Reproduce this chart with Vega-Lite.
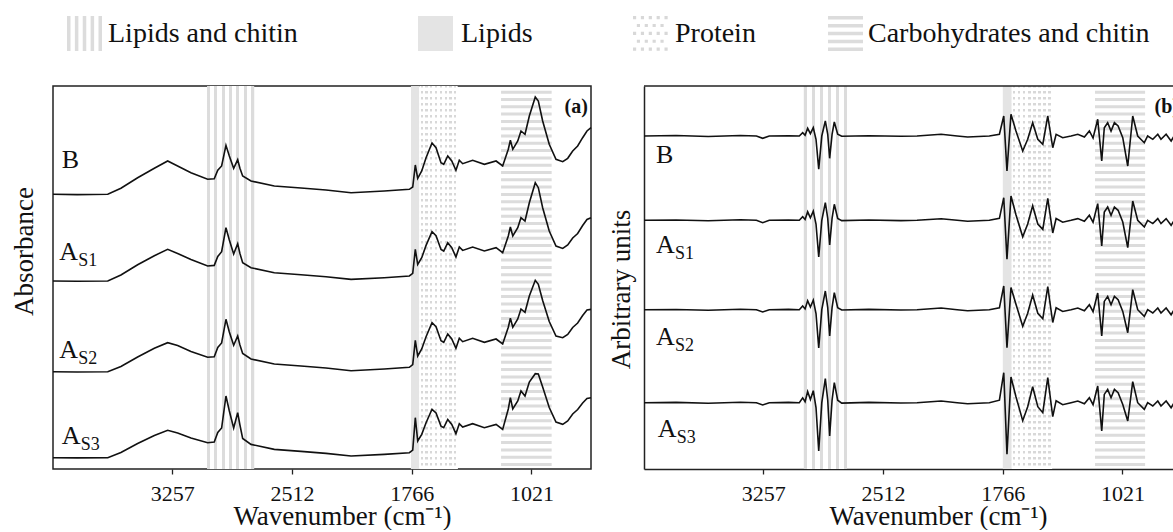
{
  "$schema": "https://vega.github.io/schema/vega-lite/v6.json",
  "padding": {"left": 9, "top": 15, "right": 0, "bottom": 0},
  "background": "white",
  "bounds": "flush",
  "spacing": 53,
  "config": {
    "font": "Liberation Serif",
    "view": {"stroke": "#222", "strokeWidth": 1.5},
    "axis": {"grid": false, "labelFont": "Liberation Serif", "titleFont": "Liberation Serif", "titleFontWeight": "normal", "labelColor": "#111", "titleColor": "#111"},
    "legend": {"labelFont": "Liberation Serif"}
  },
  "datasets": {
    "a": [
      {"w":4000,"B":274.7,"S1":188,"S2":97.3,"S3":11.3},
      {"w":3850,"B":274.4,"S1":187.7,"S2":97,"S3":11.1},
      {"w":3659,"B":274.7,"S1":188,"S2":97.3,"S3":11.3},
      {"w":3577,"B":280.7,"S1":194,"S2":102.5,"S3":16.5},
      {"w":3473,"B":291.3,"S1":204.3,"S2":112,"S3":25.5},
      {"w":3369,"B":300.7,"S1":213.3,"S2":120.7,"S3":33.5},
      {"w":3286,"B":308,"S1":219.7,"S2":126.3,"S3":38.7},
      {"w":3224,"B":303,"S1":215.5,"S2":123.5,"S3":36},
      {"w":3141,"B":296.3,"S1":209.6,"S2":117.5,"S3":31},
      {"w":3037,"B":289.7,"S1":203,"S2":111.7,"S3":26.3},
      {"w":2996,"B":290.3,"S1":203.6,"S2":112.3,"S3":27},
      {"w":2974,"B":298.7,"S1":212.5,"S2":121.5,"S3":36.5},
      {"w":2950,"B":303,"S1":217.3,"S2":126,"S3":41},
      {"w":2923,"B":323.7,"S1":241.3,"S2":149.7,"S3":73},
      {"w":2902,"B":313,"S1":229,"S2":137,"S3":58},
      {"w":2875,"B":300.7,"S1":215,"S2":123.7,"S3":41},
      {"w":2850,"B":309.3,"S1":225.3,"S2":133,"S3":56.3},
      {"w":2836,"B":300.7,"S1":215.5,"S2":124,"S3":44},
      {"w":2819,"B":293,"S1":206.3,"S2":115.5,"S3":30.5},
      {"w":2767,"B":288,"S1":201.3,"S2":110,"S3":24.6},
      {"w":2622,"B":283,"S1":196.3,"S2":105,"S3":19.6},
      {"w":2456,"B":281,"S1":194.3,"S2":103,"S3":17.6},
      {"w":2300,"B":279,"S1":192.3,"S2":101,"S3":15.6},
      {"w":2144,"B":276.3,"S1":189.6,"S2":98.3,"S3":13},
      {"w":1937,"B":278,"S1":191.3,"S2":100,"S3":14.6},
      {"w":1781,"B":279.7,"S1":193,"S2":101.7,"S3":16.3},
      {"w":1760,"B":282,"S1":195.6,"S2":104.5,"S3":19},
      {"w":1744,"B":304,"S1":219.7,"S2":128.7,"S3":51.3},
      {"w":1729,"B":290.7,"S1":204.5,"S2":113,"S3":28},
      {"w":1704,"B":298,"S1":211.3,"S2":120,"S3":34.6},
      {"w":1677,"B":311.3,"S1":223.6,"S2":132.3,"S3":46.3},
      {"w":1640,"B":326,"S1":237.3,"S2":146.3,"S3":59.7},
      {"w":1615,"B":321.3,"S1":233.3,"S2":142.3,"S3":56},
      {"w":1584,"B":306.3,"S1":219.6,"S2":128.3,"S3":42.9},
      {"w":1567,"B":304.7,"S1":218,"S2":126.7,"S3":41.3},
      {"w":1542,"B":313,"S1":226.3,"S2":135,"S3":49.6},
      {"w":1517,"B":308,"S1":221.3,"S2":130,"S3":44.6},
      {"w":1491,"B":298.7,"S1":212,"S2":120.7,"S3":35.3},
      {"w":1470,"B":308.7,"S1":222,"S2":130.7,"S3":45.3},
      {"w":1449,"B":305.3,"S1":218.6,"S2":127.3,"S3":42},
      {"w":1387,"B":308.7,"S1":222,"S2":130.7,"S3":45.3},
      {"w":1314,"B":304.7,"S1":218,"S2":126.7,"S3":41.3},
      {"w":1241,"B":308,"S1":221.3,"S2":130,"S3":44.6},
      {"w":1200,"B":303,"S1":216.3,"S2":125,"S3":39.6},
      {"w":1165,"B":319.7,"S1":233,"S2":141.7,"S3":60},
      {"w":1152,"B":328.7,"S1":242,"S2":150.7,"S3":71.3},
      {"w":1137,"B":319.7,"S1":233,"S2":141.7,"S3":60},
      {"w":1106,"B":328,"S1":241.3,"S2":150,"S3":68},
      {"w":1086,"B":338,"S1":251.3,"S2":160,"S3":78},
      {"w":1061,"B":334.7,"S1":248,"S2":156.7,"S3":73},
      {"w":1034,"B":353,"S1":266.3,"S2":173,"S3":87},
      {"w":997,"B":372,"S1":286.3,"S2":188.7,"S3":95.3},
      {"w":978,"B":368,"S1":281.3,"S2":184.7,"S3":95},
      {"w":951,"B":348,"S1":261.3,"S2":168.5,"S3":82},
      {"w":910,"B":324.7,"S1":238,"S2":147.5,"S3":61.5},
      {"w":868,"B":309.7,"S1":223,"S2":133,"S3":47},
      {"w":826,"B":307.3,"S1":220.6,"S2":131.3,"S3":44.7},
      {"w":795,"B":310.7,"S1":224,"S2":134.5,"S3":48},
      {"w":764,"B":318,"S1":231,"S2":141.5,"S3":55},
      {"w":733,"B":323,"S1":235.5,"S2":146,"S3":59.5},
      {"w":702,"B":331.3,"S1":243.5,"S2":153.5,"S3":66},
      {"w":675,"B":338,"S1":249.5,"S2":159,"S3":70.5},
      {"w":650,"B":341.3,"S1":251.3,"S2":159.6,"S3":71.3}
    ],
    "b": [
      {"w":4000,"B":333,"S1":248.7,"S2":159.3,"S3":66.3},
      {"w":3800,"B":333.5,"S1":249,"S2":159.5,"S3":66.6},
      {"w":3600,"B":332.5,"S1":248.3,"S2":158.8,"S3":65.8},
      {"w":3400,"B":333.5,"S1":249.2,"S2":159.8,"S3":66.8},
      {"w":3300,"B":333,"S1":248.7,"S2":159.3,"S3":66.3},
      {"w":3261,"B":330.7,"S1":246.3,"S2":157,"S3":64},
      {"w":3220,"B":333,"S1":248.7,"S2":159.3,"S3":66.3},
      {"w":3100,"B":333.3,"S1":249,"S2":159.6,"S3":66.6},
      {"w":3033,"B":333,"S1":248.7,"S2":159.3,"S3":66.3},
      {"w":3012,"B":336.3,"S1":252.3,"S2":163.1,"S3":71.1},
      {"w":2997,"B":333.7,"S1":249.5,"S2":160.1,"S3":67.3},
      {"w":2981,"B":340.7,"S1":257.2,"S2":168.2,"S3":77.5},
      {"w":2964,"B":335.3,"S1":251.2,"S2":162,"S3":69.6},
      {"w":2946,"B":341.3,"S1":257.8,"S2":168.8,"S3":78.3},
      {"w":2929,"B":329.7,"S1":245,"S2":155.5,"S3":61.5},
      {"w":2912,"B":299.7,"S1":212,"S2":121,"S3":18},
      {"w":2893,"B":333,"S1":248.7,"S2":159.3,"S3":66.3},
      {"w":2871,"B":348,"S1":266.3,"S2":178,"S3":90.3},
      {"w":2856,"B":334.7,"S1":250.6,"S2":161.3,"S3":68.8},
      {"w":2844,"B":310.7,"S1":224,"S2":133,"S3":33},
      {"w":2829,"B":334.7,"S1":250.6,"S2":161.3,"S3":68.8},
      {"w":2815,"B":347,"S1":264.7,"S2":176.3,"S3":86.3},
      {"w":2794,"B":334.7,"S1":250.6,"S2":161.3,"S3":68.8},
      {"w":2769,"B":332.7,"S1":248.4,"S2":159,"S3":65.9},
      {"w":2600,"B":333.3,"S1":249,"S2":159.6,"S3":66.6},
      {"w":2400,"B":332.7,"S1":248.4,"S2":159,"S3":66},
      {"w":2300,"B":333,"S1":248.7,"S2":159.3,"S3":66.3},
      {"w":2150,"B":334.7,"S1":250.3,"S2":161,"S3":68},
      {"w":2050,"B":333,"S1":248.7,"S2":159.3,"S3":66.3},
      {"w":1985,"B":332,"S1":247.7,"S2":158.3,"S3":65.3},
      {"w":1850,"B":333,"S1":248.7,"S2":159.3,"S3":66.3},
      {"w":1787,"B":334.7,"S1":250.6,"S2":161.2,"S3":68.8},
      {"w":1760,"B":353,"S1":271.3,"S2":183,"S3":96.3},
      {"w":1740,"B":298,"S1":209.7,"S2":121.3,"S3":14.7},
      {"w":1715,"B":354.7,"S1":273,"S2":181.5,"S3":92},
      {"w":1684,"B":338,"S1":254.2,"S2":164.8,"S3":72.3},
      {"w":1642,"B":318,"S1":232.2,"S2":142.8,"S3":48.3},
      {"w":1611,"B":329.7,"S1":245,"S2":155.7,"S3":62.3},
      {"w":1580,"B":346.3,"S1":263.3,"S2":174,"S3":82.3},
      {"w":1548,"B":329.7,"S1":245,"S2":155.7,"S3":62.3},
      {"w":1517,"B":324.7,"S1":239.6,"S2":150.2,"S3":56.3},
      {"w":1486,"B":353,"S1":270.7,"S2":182.3,"S3":91.3},
      {"w":1455,"B":321.3,"S1":236,"S2":146.5,"S3":52.3},
      {"w":1434,"B":334.7,"S1":250.5,"S2":161.2,"S3":68.3},
      {"w":1393,"B":331.3,"S1":246.8,"S2":157.5,"S3":64.3},
      {"w":1341,"B":333,"S1":248.7,"S2":159.3,"S3":66.3},
      {"w":1299,"B":334.7,"S1":250.4,"S2":161,"S3":68},
      {"w":1258,"B":332,"S1":247.7,"S2":158.3,"S3":65.3},
      {"w":1227,"B":338,"S1":253.7,"S2":164.3,"S3":71.3},
      {"w":1204,"B":331,"S1":246.7,"S2":157.3,"S3":64.3},
      {"w":1175,"B":349.7,"S1":265.4,"S2":176,"S3":83},
      {"w":1150,"B":308,"S1":223,"S2":133,"S3":38},
      {"w":1134,"B":341.3,"S1":257,"S2":167.6,"S3":74.6},
      {"w":1113,"B":346.3,"S1":262,"S2":172.6,"S3":79.6},
      {"w":1092,"B":338,"S1":253.7,"S2":164.3,"S3":71.3},
      {"w":1071,"B":346.3,"S1":262,"S2":172.6,"S3":79.6},
      {"w":1048,"B":343,"S1":258.7,"S2":169.3,"S3":76.3},
      {"w":1019,"B":331.3,"S1":247,"S2":157.6,"S3":64.6},
      {"w":988,"B":303,"S1":221.3,"S2":136.3,"S3":48},
      {"w":957,"B":353,"S1":268,"S2":179.3,"S3":87.3},
      {"w":926,"B":333,"S1":248.7,"S2":159.3,"S3":66.3},
      {"w":885,"B":326.3,"S1":242,"S2":152.6,"S3":59.6},
      {"w":864,"B":333,"S1":248.7,"S2":159.3,"S3":66.3},
      {"w":832,"B":329.7,"S1":245.4,"S2":156,"S3":63},
      {"w":801,"B":334.7,"S1":250.4,"S2":161,"S3":68},
      {"w":781,"B":329.7,"S1":245.4,"S2":156,"S3":63},
      {"w":749,"B":334.7,"S1":250.4,"S2":161,"S3":68},
      {"w":718,"B":328,"S1":243.7,"S2":154.3,"S3":61.3},
      {"w":699,"B":333,"S1":248.7,"S2":159.3,"S3":66.3}
    ],
    "la": [
      {"t":"B","sub":"","w":3946,"y":301},
      {"t":"A","sub":"S1","w":3961,"y":209},
      {"t":"A","sub":"S2","w":3961,"y":111},
      {"t":"A","sub":"S3","w":3946,"y":25}
    ],
    "lb": [
      {"t":"B","sub":"","w":3925,"y":306},
      {"t":"A","sub":"S1","w":3925,"y":216},
      {"t":"A","sub":"S2","w":3925,"y":124},
      {"t":"A","sub":"S3","w":3915,"y":32}
    ]
  },
  "hconcat": [
    {
      "width": 538,
      "height": 383,
      "resolve": {"scale": {"shape": "independent"}, "legend": {"shape": "independent"}},
      "layer": [
        {
          "data": {"values": [{"w1": 3041, "w2": 2747}]},
          "mark": {"type": "rect", "fill": {"gradient": "linear", "x1": 0, "y1": 0, "x2": 1, "y2": 0, "stops": [
            {"offset": 0, "color": "#dcdcdc"}, {"offset": 0.064, "color": "#dcdcdc"}, {"offset": 0.064, "color": "#ffffff"}, {"offset": 0.156, "color": "#ffffff"},
            {"offset": 0.156, "color": "#dcdcdc"}, {"offset": 0.22, "color": "#dcdcdc"}, {"offset": 0.22, "color": "#ffffff"}, {"offset": 0.312, "color": "#ffffff"},
            {"offset": 0.312, "color": "#dcdcdc"}, {"offset": 0.376, "color": "#dcdcdc"}, {"offset": 0.376, "color": "#ffffff"}, {"offset": 0.468, "color": "#ffffff"},
            {"offset": 0.468, "color": "#dcdcdc"}, {"offset": 0.532, "color": "#dcdcdc"}, {"offset": 0.532, "color": "#ffffff"}, {"offset": 0.624, "color": "#ffffff"},
            {"offset": 0.624, "color": "#dcdcdc"}, {"offset": 0.688, "color": "#dcdcdc"}, {"offset": 0.688, "color": "#ffffff"}, {"offset": 0.78, "color": "#ffffff"},
            {"offset": 0.78, "color": "#dcdcdc"}, {"offset": 0.844, "color": "#dcdcdc"}, {"offset": 0.844, "color": "#ffffff"}, {"offset": 0.936, "color": "#ffffff"},
            {"offset": 0.936, "color": "#dcdcdc"}, {"offset": 1, "color": "#dcdcdc"}]}},
          "encoding": {
            "x": {"field": "w1", "type": "quantitative", "scale": {"domain": [650, 4000], "reverse": true, "nice": false, "zero": false}},
            "x2": {"field": "w2"}
          }
        },
        {
          "data": {"values": [{"w1": 1771, "w2": 1719}]},
          "mark": {"type": "rect", "fill": "#e4e4e4"},
          "encoding": {
            "x": {"field": "w1", "type": "quantitative"},
            "x2": {"field": "w2"}
          }
        },
        {
          "data": {"values": [{"w1": 1719, "w2": 1480}]},
          "mark": {"type": "rect", "fill": {"gradient": "linear", "x1": 0, "y1": 0, "x2": 1, "y2": 0, "stops": [
            {"offset": 0, "color": "#ffffff"}, {"offset": 0.035, "color": "#ffffff"}, {"offset": 0.035, "color": "#d8d8d8"}, {"offset": 0.09, "color": "#d8d8d8"},
            {"offset": 0.09, "color": "#ffffff"}, {"offset": 0.16, "color": "#ffffff"}, {"offset": 0.16, "color": "#d8d8d8"}, {"offset": 0.215, "color": "#d8d8d8"},
            {"offset": 0.215, "color": "#ffffff"}, {"offset": 0.285, "color": "#ffffff"}, {"offset": 0.285, "color": "#d8d8d8"}, {"offset": 0.34, "color": "#d8d8d8"},
            {"offset": 0.34, "color": "#ffffff"}, {"offset": 0.41, "color": "#ffffff"}, {"offset": 0.41, "color": "#d8d8d8"}, {"offset": 0.465, "color": "#d8d8d8"},
            {"offset": 0.465, "color": "#ffffff"}, {"offset": 0.535, "color": "#ffffff"}, {"offset": 0.535, "color": "#d8d8d8"}, {"offset": 0.59, "color": "#d8d8d8"},
            {"offset": 0.59, "color": "#ffffff"}, {"offset": 0.66, "color": "#ffffff"}, {"offset": 0.66, "color": "#d8d8d8"}, {"offset": 0.715, "color": "#d8d8d8"},
            {"offset": 0.715, "color": "#ffffff"}, {"offset": 0.785, "color": "#ffffff"}, {"offset": 0.785, "color": "#d8d8d8"}, {"offset": 0.84, "color": "#d8d8d8"},
            {"offset": 0.84, "color": "#ffffff"}, {"offset": 0.91, "color": "#ffffff"}, {"offset": 0.91, "color": "#d8d8d8"}, {"offset": 0.965, "color": "#d8d8d8"},
            {"offset": 0.965, "color": "#ffffff"}, {"offset": 1, "color": "#ffffff"}]}},
          "encoding": {
            "x": {"field": "w1", "type": "quantitative"},
            "x2": {"field": "w2"}
          }
        },
        {
          "data": {"values": [{"wc": 1599.5}]},
          "mark": {"type": "rule", "color": "#ffffff", "strokeWidth": 38.4, "strokeDash": [3.5, 2.5], "strokeCap": "butt"},
          "encoding": {
            "x": {"field": "wc", "type": "quantitative"},
            "y": {"datum": 0, "type": "quantitative"},
            "y2": {"datum": 383}
          }
        },
        {
          "data": {"values": [{"wc": 1052.5}]},
          "mark": {"type": "rule", "color": "#dcdcdc", "strokeWidth": 50.6, "strokeDash": [3, 4.3], "strokeCap": "butt"},
          "encoding": {
            "x": {"field": "wc", "type": "quantitative"},
            "y": {"datum": 3, "type": "quantitative"},
            "y2": {"datum": 381}
          }
        },
        {
          "data": {"name": "a"},
          "transform": [{"fold": ["B", "S1", "S2", "S3"], "as": ["s", "v"]}],
          "mark": {"type": "line", "color": "#111", "strokeWidth": 1.6},
          "encoding": {
            "x": {"field": "w", "type": "quantitative",
              "scale": {"domain": [650, 4000], "reverse": true, "nice": false, "zero": false},
              "axis": {"values": [3257, 2512, 1766, 1021], "format": "d", "domain": false, "tickSize": 5, "tickColor": "#222", "tickWidth": 1.3,
                "labelFontSize": 22, "labelBaseline": "alphabetic", "labelPadding": 26, "labelFlush": false, "labelOverlap": false,
                "title": "Wavenumber (cm⁻¹)", "titleFontSize": 27, "titleBaseline": "alphabetic", "titleX": 289, "titleY": 55}},
            "y": {"field": "v", "type": "quantitative",
              "scale": {"domain": [0, 383], "nice": false, "zero": false},
              "axis": {"title": "Absorbance", "domain": false, "ticks": false, "labels": false, "titleFontSize": 27, "titleBaseline": "alphabetic", "titleX": -21, "titleY": 165}},
            "detail": {"field": "s", "type": "nominal"}
          }
        },
        {
          "data": {"name": "la"},
          "mark": {"type": "text", "align": "left", "baseline": "alphabetic", "fontSize": 26, "color": "#111"},
          "encoding": {
            "x": {"field": "w", "type": "quantitative"},
            "y": {"field": "y", "type": "quantitative"},
            "text": {"field": "t"}
          }
        },
        {
          "data": {"name": "la"},
          "mark": {"type": "text", "align": "left", "baseline": "alphabetic", "fontSize": 18, "dx": 19, "dy": 6, "color": "#111"},
          "encoding": {
            "x": {"field": "w", "type": "quantitative"},
            "y": {"field": "y", "type": "quantitative"},
            "text": {"field": "sub"}
          }
        },
        {
          "data": {"values": [{"t": "(a)", "w": 669, "y": 356}]},
          "mark": {"type": "text", "align": "right", "baseline": "alphabetic", "fontSize": 20, "fontWeight": "bold", "color": "#111"},
          "encoding": {
            "x": {"field": "w", "type": "quantitative"},
            "y": {"field": "y", "type": "quantitative"},
            "text": {"field": "t"}
          }
        },
        {
          "data": {"values": []},
          "mark": {"type": "point", "filled": true, "color": "#dcdcdc", "strokeWidth": 0},
          "encoding": {
            "shape": {"field": "k", "type": "nominal",
              "scale": {"domain": ["Lipids and chitin"], "range": ["M-1,-1L-0.8,-1L-0.8,1L-1,1Z M-0.55,-1L-0.35,-1L-0.35,1L-0.55,1Z M-0.1,-1L0.1,-1L0.1,1L-0.1,1Z M0.35,-1L0.55,-1L0.55,1L0.35,1Z M0.8,-1L1,-1L1,1L0.8,1Z"]},
              "legend": {"orient": "none", "legendX": 14, "legendY": -70, "title": null, "padding": 0, "symbolSize": 1225, "symbolFillColor": "#dcdcdc", "symbolStrokeWidth": 0, "symbolOpacity": 1, "labelFontSize": 28, "labelColor": "#111", "labelOffset": 6, "labelLimit": 0}}
          }
        },
        {
          "data": {"values": []},
          "mark": {"type": "point", "filled": true, "color": "#e4e4e4", "strokeWidth": 0},
          "encoding": {
            "shape": {"field": "k", "type": "nominal",
              "scale": {"domain": ["Lipids"], "range": ["square"]},
              "legend": {"orient": "none", "legendX": 365, "legendY": -70, "title": null, "padding": 0, "symbolSize": 1225, "symbolFillColor": "#e4e4e4", "symbolStrokeWidth": 0, "symbolOpacity": 1, "labelFontSize": 28, "labelColor": "#111", "labelOffset": 8, "labelLimit": 0}}
          }
        },
        {
          "data": {"values": []},
          "mark": {"type": "point", "filled": true, "color": "#d8d8d8", "strokeWidth": 0},
          "encoding": {
            "shape": {"field": "k", "type": "nominal",
              "scale": {"domain": ["Protein"], "range": ["M-1,-1L-0.82,-1L-0.82,-0.82L-1,-0.82Z M-0.55,-1L-0.37,-1L-0.37,-0.82L-0.55,-0.82Z M-0.1,-1L0.08,-1L0.08,-0.82L-0.1,-0.82Z M0.35,-1L0.53,-1L0.53,-0.82L0.35,-0.82Z M0.8,-1L0.98,-1L0.98,-0.82L0.8,-0.82Z M-0.78,-0.55L-0.6,-0.55L-0.6,-0.37L-0.78,-0.37Z M-0.33,-0.55L-0.15,-0.55L-0.15,-0.37L-0.33,-0.37Z M0.12,-0.55L0.3,-0.55L0.3,-0.37L0.12,-0.37Z M0.57,-0.55L0.75,-0.55L0.75,-0.37L0.57,-0.37Z M-1,-0.1L-0.82,-0.1L-0.82,0.08L-1,0.08Z M-0.55,-0.1L-0.37,-0.1L-0.37,0.08L-0.55,0.08Z M-0.1,-0.1L0.08,-0.1L0.08,0.08L-0.1,0.08Z M0.35,-0.1L0.53,-0.1L0.53,0.08L0.35,0.08Z M0.8,-0.1L0.98,-0.1L0.98,0.08L0.8,0.08Z M-0.78,0.35L-0.6,0.35L-0.6,0.53L-0.78,0.53Z M-0.33,0.35L-0.15,0.35L-0.15,0.53L-0.33,0.53Z M0.12,0.35L0.3,0.35L0.3,0.53L0.12,0.53Z M0.57,0.35L0.75,0.35L0.75,0.53L0.57,0.53Z M-1,0.8L-0.82,0.8L-0.82,0.98L-1,0.98Z M-0.55,0.8L-0.37,0.8L-0.37,0.98L-0.55,0.98Z M-0.1,0.8L0.08,0.8L0.08,0.98L-0.1,0.98Z M0.35,0.8L0.53,0.8L0.53,0.98L0.35,0.98Z M0.8,0.8L0.98,0.8L0.98,0.98L0.8,0.98Z"]},
              "legend": {"orient": "none", "legendX": 580, "legendY": -70, "title": null, "padding": 0, "symbolSize": 1225, "symbolFillColor": "#d8d8d8", "symbolStrokeWidth": 0, "symbolOpacity": 1, "labelFontSize": 28, "labelColor": "#111", "labelOffset": 7, "labelLimit": 0}}
          }
        },
        {
          "data": {"values": []},
          "mark": {"type": "point", "filled": true, "color": "#dcdcdc", "strokeWidth": 0},
          "encoding": {
            "shape": {"field": "k", "type": "nominal",
              "scale": {"domain": ["Carbohydrates and chitin"], "range": ["M-1,-1L1,-1L1,-0.8L-1,-0.8Z M-1,-0.55L1,-0.55L1,-0.35L-1,-0.35Z M-1,-0.1L1,-0.1L1,0.1L-1,0.1Z M-1,0.35L1,0.35L1,0.55L-1,0.55Z M-1,0.8L1,0.8L1,1L-1,1Z"]},
              "legend": {"orient": "none", "legendX": 775, "legendY": -70, "title": null, "padding": 0, "symbolSize": 1225, "symbolFillColor": "#dcdcdc", "symbolStrokeWidth": 0, "symbolOpacity": 1, "labelFontSize": 28, "labelColor": "#111", "labelOffset": 5, "labelLimit": 0}}
          }
        }
      ]
    },
    {
      "width": 530,
      "height": 383,
      "view": {"stroke": null},
      "layer": [
        {
          "data": {"values": [{"w1": 3005, "w2": 2736}]},
          "mark": {"type": "rect", "fill": {"gradient": "linear", "x1": 0, "y1": 0, "x2": 1, "y2": 0, "stops": [
            {"offset": 0, "color": "#dcdcdc"}, {"offset": 0.07, "color": "#dcdcdc"}, {"offset": 0.07, "color": "#ffffff"}, {"offset": 0.186, "color": "#ffffff"},
            {"offset": 0.186, "color": "#dcdcdc"}, {"offset": 0.256, "color": "#dcdcdc"}, {"offset": 0.256, "color": "#ffffff"}, {"offset": 0.372, "color": "#ffffff"},
            {"offset": 0.372, "color": "#dcdcdc"}, {"offset": 0.442, "color": "#dcdcdc"}, {"offset": 0.442, "color": "#ffffff"}, {"offset": 0.558, "color": "#ffffff"},
            {"offset": 0.558, "color": "#dcdcdc"}, {"offset": 0.628, "color": "#dcdcdc"}, {"offset": 0.628, "color": "#ffffff"}, {"offset": 0.744, "color": "#ffffff"},
            {"offset": 0.744, "color": "#dcdcdc"}, {"offset": 0.814, "color": "#dcdcdc"}, {"offset": 0.814, "color": "#ffffff"}, {"offset": 0.93, "color": "#ffffff"},
            {"offset": 0.93, "color": "#dcdcdc"}, {"offset": 1, "color": "#dcdcdc"}]}},
          "encoding": {
            "x": {"field": "w1", "type": "quantitative", "scale": {"domain": [700, 4000], "reverse": true, "nice": false, "zero": false}},
            "x2": {"field": "w2"}
          }
        },
        {
          "data": {"values": [{"w1": 1766, "w2": 1710}]},
          "mark": {"type": "rect", "fill": "#e4e4e4"},
          "encoding": {
            "x": {"field": "w1", "type": "quantitative"},
            "x2": {"field": "w2"}
          }
        },
        {
          "data": {"values": [{"w1": 1710, "w2": 1459}]},
          "mark": {"type": "rect", "fill": {"gradient": "linear", "x1": 0, "y1": 0, "x2": 1, "y2": 0, "stops": [
            {"offset": 0, "color": "#ffffff"}, {"offset": 0.035, "color": "#ffffff"}, {"offset": 0.035, "color": "#d8d8d8"}, {"offset": 0.09, "color": "#d8d8d8"},
            {"offset": 0.09, "color": "#ffffff"}, {"offset": 0.16, "color": "#ffffff"}, {"offset": 0.16, "color": "#d8d8d8"}, {"offset": 0.215, "color": "#d8d8d8"},
            {"offset": 0.215, "color": "#ffffff"}, {"offset": 0.285, "color": "#ffffff"}, {"offset": 0.285, "color": "#d8d8d8"}, {"offset": 0.34, "color": "#d8d8d8"},
            {"offset": 0.34, "color": "#ffffff"}, {"offset": 0.41, "color": "#ffffff"}, {"offset": 0.41, "color": "#d8d8d8"}, {"offset": 0.465, "color": "#d8d8d8"},
            {"offset": 0.465, "color": "#ffffff"}, {"offset": 0.535, "color": "#ffffff"}, {"offset": 0.535, "color": "#d8d8d8"}, {"offset": 0.59, "color": "#d8d8d8"},
            {"offset": 0.59, "color": "#ffffff"}, {"offset": 0.66, "color": "#ffffff"}, {"offset": 0.66, "color": "#d8d8d8"}, {"offset": 0.715, "color": "#d8d8d8"},
            {"offset": 0.715, "color": "#ffffff"}, {"offset": 0.785, "color": "#ffffff"}, {"offset": 0.785, "color": "#d8d8d8"}, {"offset": 0.84, "color": "#d8d8d8"},
            {"offset": 0.84, "color": "#ffffff"}, {"offset": 0.91, "color": "#ffffff"}, {"offset": 0.91, "color": "#d8d8d8"}, {"offset": 0.965, "color": "#d8d8d8"},
            {"offset": 0.965, "color": "#ffffff"}, {"offset": 1, "color": "#ffffff"}]}},
          "encoding": {
            "x": {"field": "w1", "type": "quantitative"},
            "x2": {"field": "w2"}
          }
        },
        {
          "data": {"values": [{"wc": 1584.5}]},
          "mark": {"type": "rule", "color": "#ffffff", "strokeWidth": 40.3, "strokeDash": [3.5, 2.5], "strokeCap": "butt"},
          "encoding": {
            "x": {"field": "wc", "type": "quantitative"},
            "y": {"datum": 0, "type": "quantitative"},
            "y2": {"datum": 383}
          }
        },
        {
          "data": {"values": [{"wc": 1036}]},
          "mark": {"type": "rule", "color": "#dcdcdc", "strokeWidth": 50.1, "strokeDash": [3, 4.3], "strokeCap": "butt"},
          "encoding": {
            "x": {"field": "wc", "type": "quantitative"},
            "y": {"datum": 3, "type": "quantitative"},
            "y2": {"datum": 381}
          }
        },
        {
          "data": {"values": [{}]},
          "mark": {"type": "rule", "color": "#222", "strokeWidth": 1.5},
          "encoding": {"y": {"datum": 383, "type": "quantitative"}}
        },
        {
          "data": {"name": "b"},
          "transform": [{"fold": ["B", "S1", "S2", "S3"], "as": ["s", "v"]}],
          "mark": {"type": "line", "color": "#111", "strokeWidth": 1.6},
          "encoding": {
            "x": {"field": "w", "type": "quantitative",
              "scale": {"domain": [700, 4000], "reverse": true, "nice": false, "zero": false},
              "axis": {"values": [3257, 2512, 1766, 1021], "format": "d", "domain": true, "domainColor": "#222", "domainWidth": 1.5, "tickSize": 5, "tickColor": "#222", "tickWidth": 1.3,
                "labelFontSize": 22, "labelBaseline": "alphabetic", "labelPadding": 26, "labelFlush": false, "labelOverlap": false,
                "title": "Wavenumber (cm⁻¹)", "titleFontSize": 27, "titleBaseline": "alphabetic", "titleX": 294, "titleY": 55}},
            "y": {"field": "v", "type": "quantitative",
              "scale": {"domain": [0, 383], "nice": false, "zero": false},
              "axis": {"title": "Arbitrary units", "domain": true, "domainColor": "#222", "domainWidth": 1.5, "ticks": false, "labels": false, "titleFontSize": 27, "titleBaseline": "alphabetic", "titleX": -14.5, "titleY": 203}},
            "detail": {"field": "s", "type": "nominal"}
          }
        },
        {
          "data": {"name": "lb"},
          "mark": {"type": "text", "align": "left", "baseline": "alphabetic", "fontSize": 26, "color": "#111"},
          "encoding": {
            "x": {"field": "w", "type": "quantitative"},
            "y": {"field": "y", "type": "quantitative"},
            "text": {"field": "t"}
          }
        },
        {
          "data": {"name": "lb"},
          "mark": {"type": "text", "align": "left", "baseline": "alphabetic", "fontSize": 18, "dx": 19, "dy": 6, "color": "#111"},
          "encoding": {
            "x": {"field": "w", "type": "quantitative"},
            "y": {"field": "y", "type": "quantitative"},
            "text": {"field": "sub"}
          }
        },
        {
          "data": {"values": [{"t": "(b)", "w": 669, "y": 356}]},
          "mark": {"type": "text", "align": "right", "baseline": "alphabetic", "fontSize": 20, "fontWeight": "bold", "color": "#111", "clip": true},
          "encoding": {
            "x": {"field": "w", "type": "quantitative"},
            "y": {"field": "y", "type": "quantitative"},
            "text": {"field": "t"}
          }
        }
      ]
    }
  ]
}
